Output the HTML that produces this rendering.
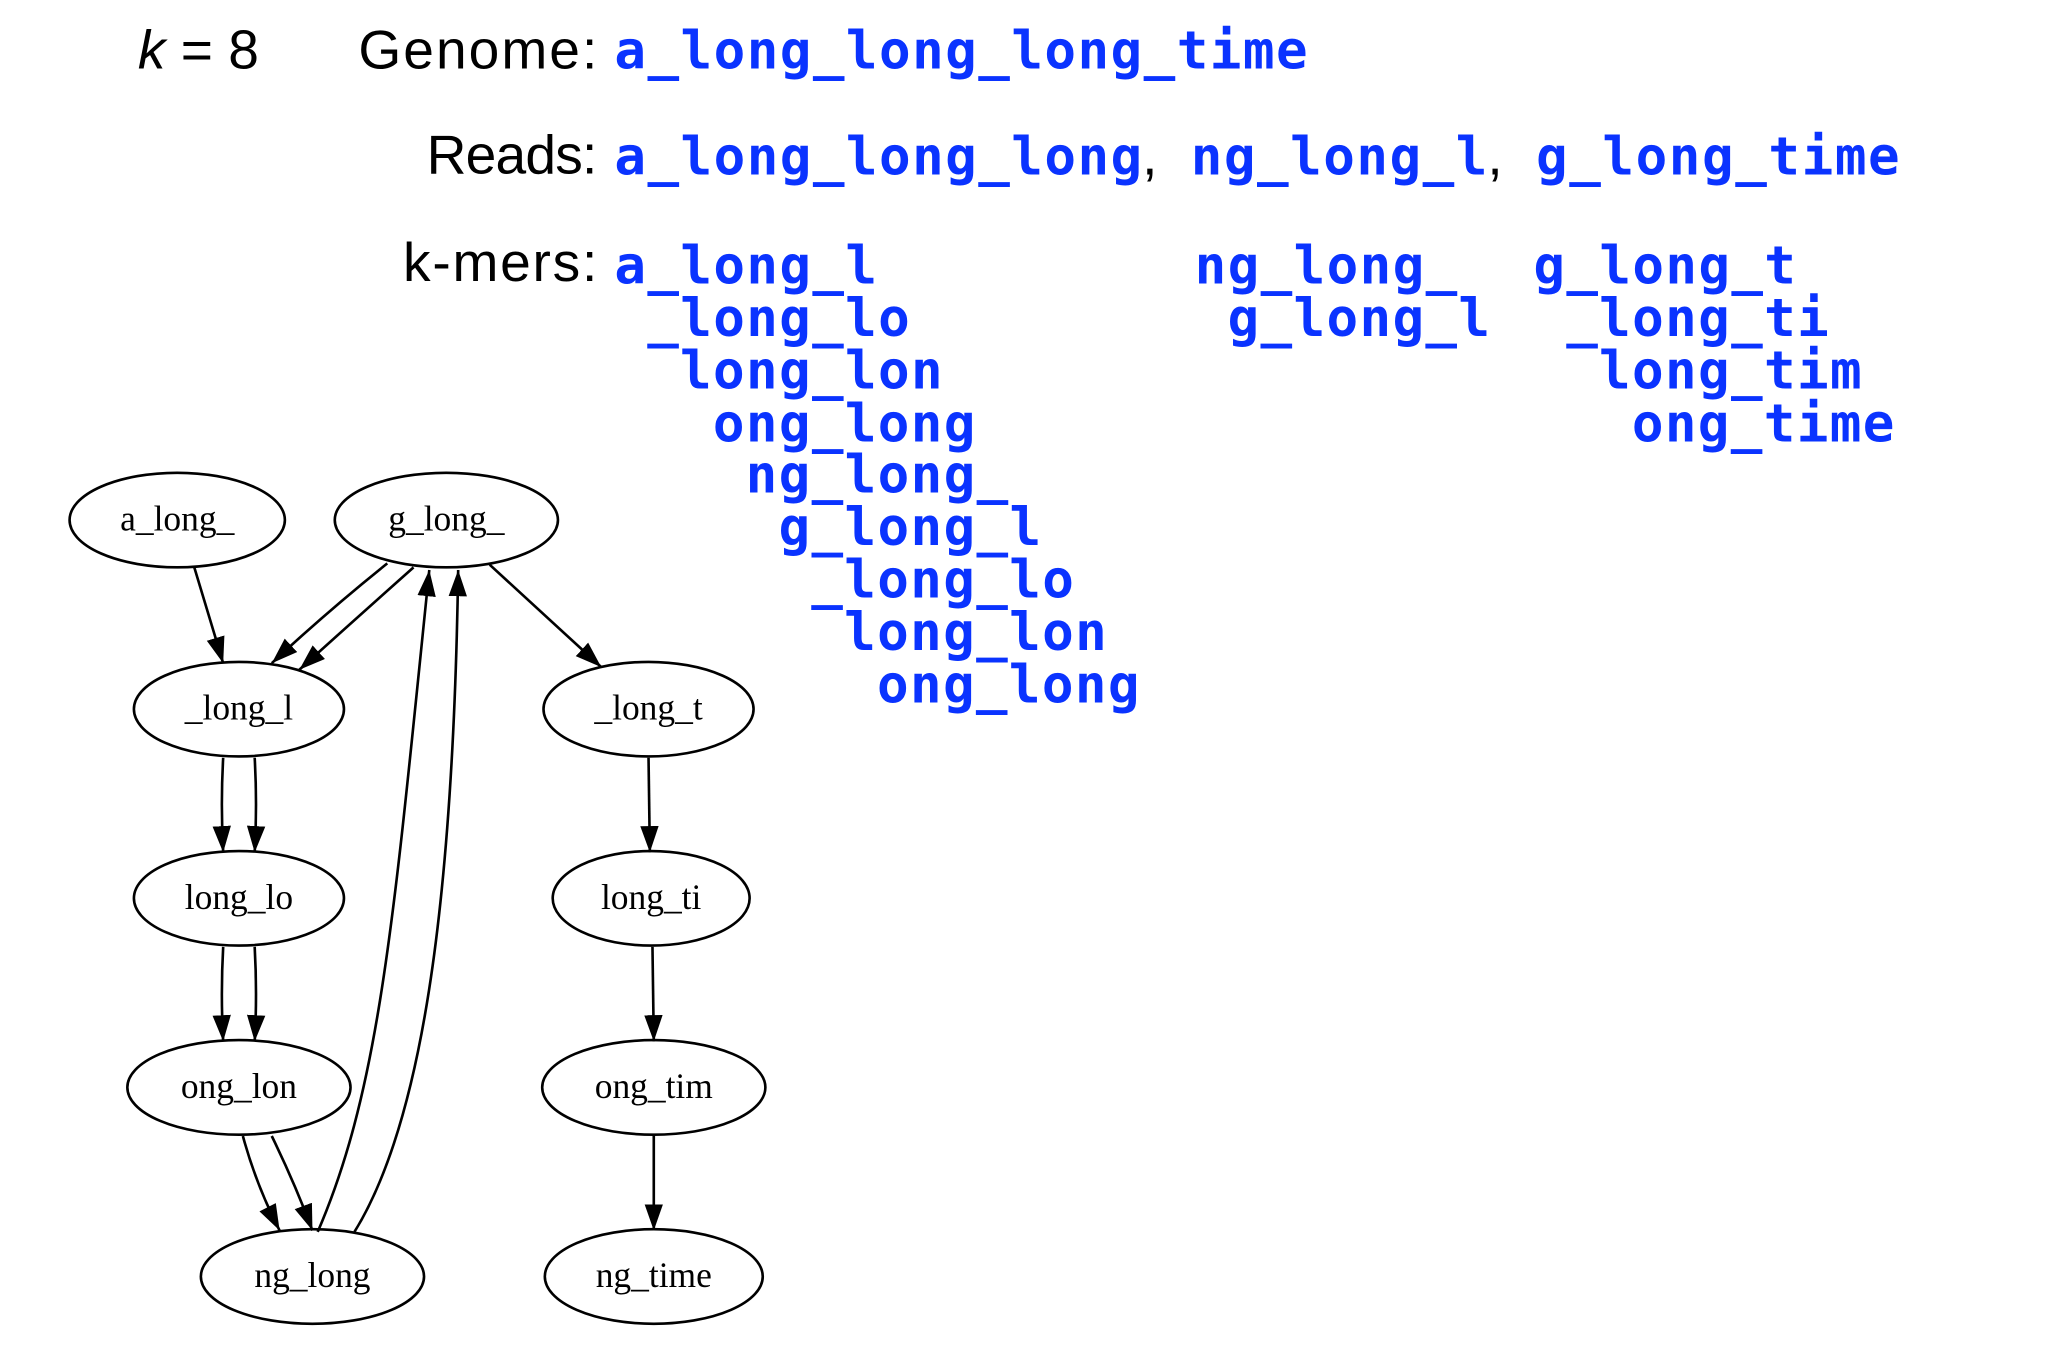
<!DOCTYPE html>
<html><head><meta charset="utf-8"><style>
html,body{margin:0;padding:0;background:#fff;width:2048px;height:1354px;overflow:hidden}
svg{display:block}
.b{font-family:"DejaVu Sans Mono","Liberation Mono",monospace;font-weight:bold;fill:#0a33ff;font-size:40px}
.s{font-family:"Liberation Sans",sans-serif;font-size:42px;fill:#000}
.n{font-family:"Liberation Serif",serif;font-size:27px;fill:#000;text-anchor:middle}
ellipse{fill:none;stroke:#000;stroke-width:2}
path{fill:none;stroke:#000;stroke-width:2}
</style></head><body>
<svg width="2048" height="1354" viewBox="0 0 1560 1031" preserveAspectRatio="none" xmlns="http://www.w3.org/2000/svg">
<defs><marker id="a" markerUnits="userSpaceOnUse" markerWidth="24" markerHeight="16" refX="20" refY="7" orient="auto"><polygon points="0,0 20,7 0,14" fill="#000"/></marker></defs>
<text class="s" x="105" y="52"><tspan font-style="italic">k</tspan> = 8</text>
<text class="s" x="273" y="52" textLength="182">Genome:</text>
<text class="b" x="468" y="52" textLength="528">a_long_long_long_time</text>
<text class="s" x="325" y="132" textLength="130">Reads:</text>
<text class="b" x="468" y="133" textLength="402">a_long_long_long</text>
<text class="s" x="870" y="133">,</text>
<text class="b" x="907" y="133" textLength="226">ng_long_l</text>
<text class="s" x="1133" y="133">,</text>
<text class="b" x="1170" y="133" textLength="277">g_long_time</text>
<text class="s" x="307" y="214" textLength="148">k-mers:</text>
<g class="b">
<text x="468" y="216" textLength="200">a_long_l</text>
<text x="493" y="256" textLength="200">_long_lo</text>
<text x="518" y="296" textLength="200">long_lon</text>
<text x="543" y="336" textLength="200">ong_long</text>
<text x="568" y="375" textLength="200">ng_long_</text>
<text x="593" y="415" textLength="200">g_long_l</text>
<text x="618" y="455" textLength="200">_long_lo</text>
<text x="643" y="495" textLength="200">long_lon</text>
<text x="668" y="535" textLength="200">ong_long</text>
<text x="910" y="216" textLength="200">ng_long_</text>
<text x="935" y="256" textLength="200">g_long_l</text>
<text x="1168" y="216" textLength="200">g_long_t</text>
<text x="1193" y="256" textLength="200">_long_ti</text>
<text x="1218" y="296" textLength="200">long_tim</text>
<text x="1243" y="336" textLength="200">ong_time</text>
</g>
<g transform="translate(0,-3)">
<ellipse cx="135" cy="399" rx="82" ry="36"/><text class="n" x="135" y="407">a_long_</text>
<ellipse cx="340" cy="399" rx="85" ry="36"/><text class="n" x="340" y="407">g_long_</text>
<ellipse cx="182" cy="543" rx="80" ry="36"/><text class="n" x="182" y="551">_long_l</text>
<ellipse cx="494" cy="543" rx="80" ry="36"/><text class="n" x="494" y="551">_long_t</text>
<ellipse cx="182" cy="687" rx="80" ry="36"/><text class="n" x="182" y="695">long_lo</text>
<ellipse cx="496" cy="687" rx="75" ry="36"/><text class="n" x="496" y="695">long_ti</text>
<ellipse cx="182" cy="831" rx="85" ry="36"/><text class="n" x="182" y="839">ong_lon</text>
<ellipse cx="498" cy="831" rx="85" ry="36"/><text class="n" x="498" y="839">ong_tim</text>
<ellipse cx="238" cy="975" rx="85" ry="36"/><text class="n" x="238" y="983">ng_long</text>
<ellipse cx="498" cy="975" rx="83" ry="36"/><text class="n" x="498" y="983">ng_time</text>
<g marker-end="url(#a)">
<path d="M148,435 L170,508"/>
<path d="M295,432 Q250,468 207,508"/>
<path d="M315,435 Q270,475 228,513"/>
<path d="M373,433 L458,511"/>
<path d="M170,580 Q168,615 170,652"/>
<path d="M194,580 Q196,615 194,652"/>
<path d="M170,724 Q168,760 170,796"/>
<path d="M194,724 Q196,760 194,796"/>
<path d="M185,868 Q195,905 213,940"/>
<path d="M207,868 Q225,905 238,940"/>
<path d="M242,941 C290,830 300,700 327,437"/>
<path d="M270,941 C320,860 345,700 349,437"/>
<path d="M494,580 L495,652"/>
<path d="M497,724 L498,796"/>
<path d="M498,868 L498,940"/>
</g>
</g>
</svg>
</body></html>
